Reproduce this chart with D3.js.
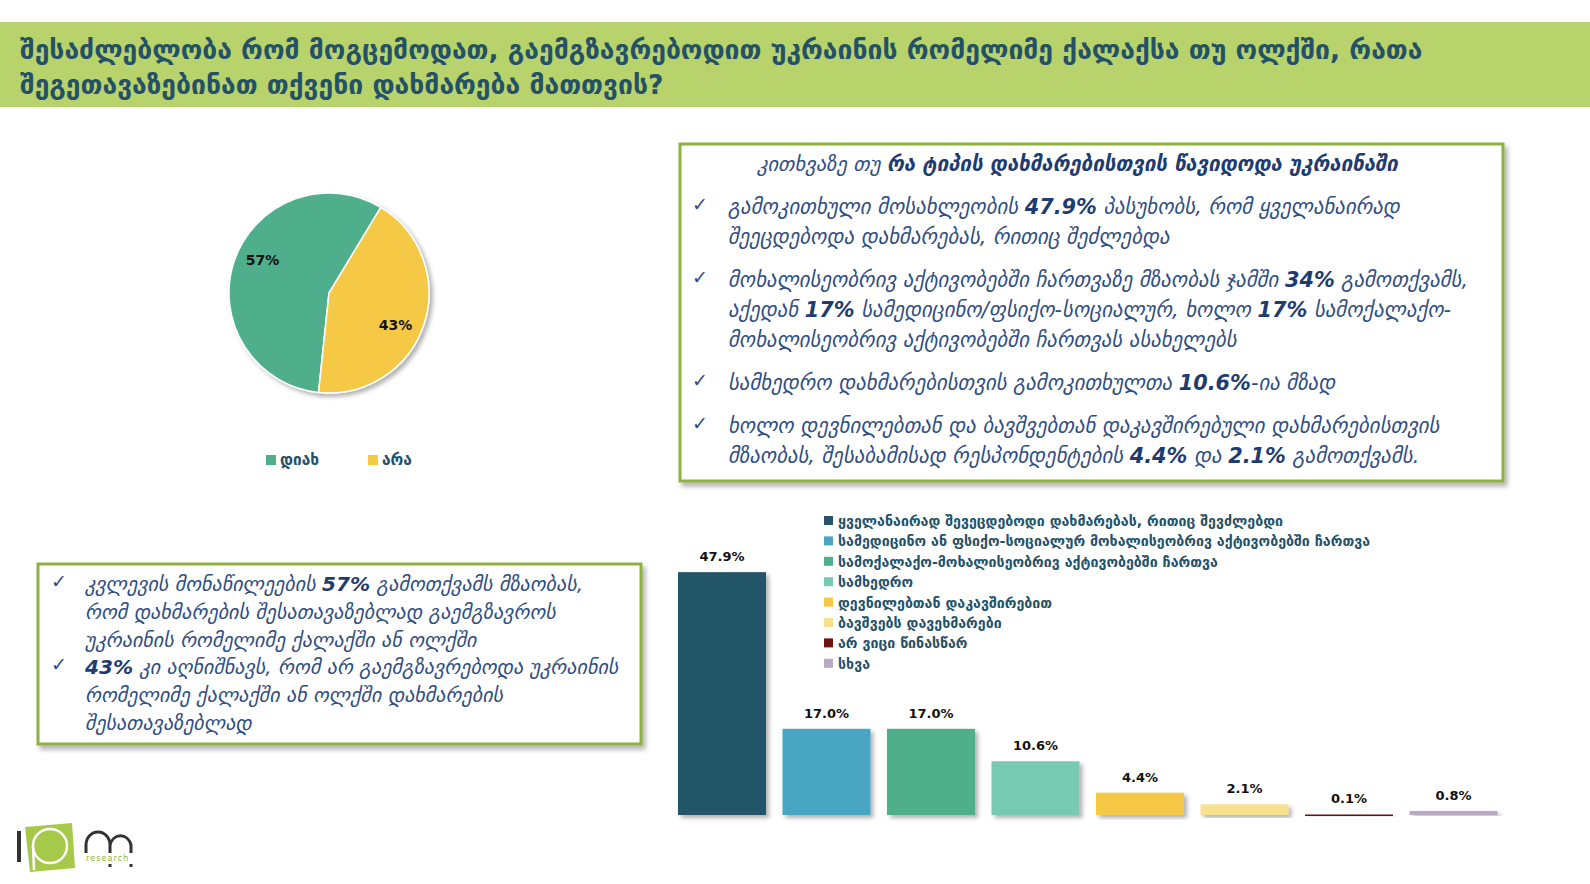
<!DOCTYPE html>
<html>
<head>
<meta charset="utf-8">
<script src="https://cdn.jsdelivr.net/npm/d3@7"></script>
<style>
  body { margin: 0; background: #fff; }
  svg text { font-family: "DejaVu Sans", "Noto Sans", sans-serif; }
</style>
</head>
<body>
<div id="slide"></div>
<script>
// ---- data ----
const titleLines = [
  "შესაძლებლობა რომ მოგცემოდათ, გაემგზავრებოდით უკრაინის რომელიმე ქალაქსა თუ ოლქში, რათა",
  "შეგეთავაზებინათ თქვენი დახმარება მათთვის?"
];

const pieLabels = ["დიახ", "არა"];
const pieValues = [57, 43];
const pieColors = ["#4faf8c", "#f5c944"];

const barLabels = [
  "ყველანაირად შევეცდებოდი დახმარებას, რითიც შევძლებდი",
  "სამედიცინო ან ფსიქო-სოციალურ მოხალისეობრივ აქტივობებში ჩართვა",
  "სამოქალაქო-მოხალისეობრივ აქტივობებში ჩართვა",
  "სამხედრო",
  "დევნილებთან დაკავშირებით",
  "ბავშვებს დავეხმარები",
  "არ ვიცი წინასწარ",
  "სხვა"
];
const barValues = [47.9, 17.0, 17.0, 10.6, 4.4, 2.1, 0.1, 0.8];
const barColors = ["#235468", "#4aa6c2", "#4faf8c", "#77c9b2", "#f5c944", "#f7e18e", "#6e1212", "#b9a9c3"];

// text boxes: *...* marks bold, bullet=true starts a new item
const noteHeader = ["კითხვაზე თუ ", "*რა ტიპის დახმარებისთვის წავიდოდა უკრაინაში*"];
const noteLines = [
  { bullet: true,  text: "გამოკითხული მოსახლეობის *47.9%* პასუხობს, რომ ყველანაირად" },
  { bullet: false, text: "შეეცდებოდა დახმარებას, რითიც შეძლებდა" },
  { bullet: true,  text: "მოხალისეობრივ აქტივობებში ჩართვაზე მზაობას ჯამში *34%* გამოთქვამს," },
  { bullet: false, text: "აქედან *17%* სამედიცინო/ფსიქო-სოციალურ, ხოლო *17%* სამოქალაქო-" },
  { bullet: false, text: "მოხალისეობრივ აქტივობებში ჩართვას ასახელებს" },
  { bullet: true,  text: "სამხედრო დახმარებისთვის გამოკითხულთა *10.6%*-ია მზად" },
  { bullet: true,  text: "ხოლო დევნილებთან და ბავშვებთან დაკავშირებული დახმარებისთვის" },
  { bullet: false, text: "მზაობას, შესაბამისად რესპონდენტების *4.4%* და *2.1%* გამოთქვამს." }
];
const pieNoteLines = [
  { bullet: true,  text: "კვლევის მონაწილეების *57%* გამოთქვამს მზაობას," },
  { bullet: false, text: "რომ დახმარების შესათავაზებლად გაემგზავროს" },
  { bullet: false, text: "უკრაინის რომელიმე ქალაქში ან ოლქში" },
  { bullet: true,  text: "*43%* კი აღნიშნავს, რომ არ გაემგზავრებოდა უკრაინის" },
  { bullet: false, text: "რომელიმე ქალაქში ან ოლქში დახმარების" },
  { bullet: false, text: "შესათავაზებლად" }
];

// ---- layout ----
const width = 1590, height = 884;
const headColor = "#245168";
const noteColor = "#2f4e82";

const svg = d3.select("#slide").append("svg")
  .attr("width", width)
  .attr("height", height);

// shadows
const defs = svg.append("defs");
defs.append("filter").attr("id", "shadow")
  .attr("x", "-10%").attr("y", "-10%").attr("width", "130%").attr("height", "130%")
  .append("feDropShadow")
  .attr("dx", 3).attr("dy", 3).attr("stdDeviation", 2)
  .attr("flood-color", "#000").attr("flood-opacity", 0.3);
defs.append("filter").attr("id", "boxShadow")
  .attr("x", "-5%").attr("y", "-5%").attr("width", "110%").attr("height", "115%")
  .append("feDropShadow")
  .attr("dx", 3).attr("dy", 4).attr("stdDeviation", 2.5)
  .attr("flood-color", "#000").attr("flood-opacity", 0.3);

// header band
svg.append("rect")
  .attr("x", 0).attr("y", 22)
  .attr("width", width).attr("height", 85)
  .attr("fill", "#b8d36b");

svg.selectAll(".title")
  .data(titleLines)
  .enter()
  .append("text")
  .attr("class", "title")
  .attr("x", 20)
  .attr("y", (d, i) => 59 + i * 35)
  .attr("fill", headColor)
  .attr("font-size", 26.5)
  .attr("font-weight", "bold")
  .text(d => d);

// helper: write a line with *bold* parts
function richLine(sel, text) {
  text.split("*").forEach((part, i) => {
    if (!part) return;
    sel.append("tspan")
      .attr("font-weight", i % 2 ? "bold" : "normal")
      .attr("fill", i % 2 ? "#1f3c70" : noteColor)
      .text(part);
  });
}

// ---- pie ----
const pieGroup = svg.append("g").attr("transform", "translate(329, 293)");
const pie = d3.pie().sort(null)
  .startAngle(186 * Math.PI / 180)
  .endAngle(546 * Math.PI / 180);
const arc = d3.arc().innerRadius(0).outerRadius(100);
const pieArcs = pie(pieValues);

pieGroup.selectAll("path")
  .data(pieArcs)
  .enter()
  .append("path")
  .attr("d", arc)
  .attr("fill", (d, i) => pieColors[i])
  .attr("stroke", "#fff")
  .attr("stroke-width", 1.5)
  .attr("filter", "url(#shadow)");

// labels sit a little past the slice middle, like the original
const labelArc = d3.arc().innerRadius(74).outerRadius(74);
const nudge = 7.5 * Math.PI / 180;
pieGroup.selectAll(".pieLabel")
  .data(pieArcs)
  .enter()
  .append("text")
  .attr("class", "pieLabel")
  .attr("transform", d => `translate(${labelArc.centroid({startAngle: d.startAngle + nudge, endAngle: d.endAngle + nudge})})`)
  .attr("text-anchor", "middle")
  .attr("dy", "0.35em")
  .attr("font-size", 14)
  .attr("font-weight", "bold")
  .attr("fill", "#111")
  .text(d => d.data + "%");

// pie legend
const pieLegend = svg.append("g").attr("transform", "translate(266, 460)");
const pieLegendItem = pieLegend.selectAll("g")
  .data(pieLabels)
  .enter()
  .append("g")
  .attr("transform", (d, i) => `translate(${i * 102}, 0)`);
pieLegendItem.append("rect")
  .attr("x", 0).attr("y", -5)
  .attr("width", 10).attr("height", 10)
  .attr("fill", (d, i) => pieColors[i]);
pieLegendItem.append("text")
  .attr("x", 14).attr("y", 5)
  .attr("font-size", 15.5)
  .attr("font-weight", "bold")
  .attr("fill", headColor)
  .text(d => d);

// ---- note boxes ----
function noteBox(x, y, w, h) {
  svg.append("rect")
    .attr("x", x).attr("y", y)
    .attr("width", w).attr("height", h)
    .attr("fill", "#fff")
    .attr("stroke", "#8fb043")
    .attr("stroke-width", 3)
    .attr("filter", "url(#boxShadow)");
}

noteBox(680, 144, 823, 337);

const header = svg.append("text")
  .attr("x", 757).attr("y", 171)
  .attr("font-size", 20.5)
  .attr("font-style", "italic");
richLine(header, noteHeader.join(""));

let ny = 214;
noteLines.forEach((line, i) => {
  if (i > 0) ny += line.bullet ? 43 : 30;
  if (line.bullet) {
    svg.append("text")
      .attr("x", 692).attr("y", ny - 3)
      .attr("font-size", 19)
      .attr("fill", noteColor)
      .text("✓");
  }
  const t = svg.append("text")
    .attr("x", 728).attr("y", ny)
    .attr("font-size", 20.8)
    .attr("font-style", "italic");
  richLine(t, line.text);
});

noteBox(38, 564, 603, 180);

pieNoteLines.forEach((line, i) => {
  const ly = 591 + i * 27.8;
  if (line.bullet) {
    svg.append("text")
      .attr("x", 51).attr("y", ly - 3)
      .attr("font-size", 19)
      .attr("fill", noteColor)
      .text("✓");
  }
  const t = svg.append("text")
    .attr("x", 85).attr("y", ly)
    .attr("font-size", 20.1)
    .attr("font-style", "italic");
  richLine(t, line.text);
});

// ---- bar chart ----
const x = d3.scaleBand()
  .domain(barLabels)
  .range([669.75, 1505.75])
  .paddingInner(0.158)
  .paddingOuter(0.079);

const y = d3.scaleLinear()
  .domain([0, 50])
  .range([815, 815 - 253.5]);

const barGroup = svg.append("g");
barGroup.selectAll("rect")
  .data(barValues)
  .enter()
  .append("rect")
  .attr("x", (d, i) => x(barLabels[i]))
  .attr("y", d => y(d))
  .attr("width", x.bandwidth())
  .attr("height", d => Math.max(y(0) - y(d), 1.5))
  .attr("fill", (d, i) => barColors[i])
  .attr("filter", "url(#shadow)");

barGroup.selectAll(".barLabel")
  .data(barValues)
  .enter()
  .append("text")
  .attr("class", "barLabel")
  .attr("x", (d, i) => x(barLabels[i]) + x.bandwidth() / 2)
  .attr("y", d => y(d) - 11)
  .attr("text-anchor", "middle")
  .attr("font-size", 13)
  .attr("font-weight", "bold")
  .attr("fill", "#111")
  .text(d => d.toFixed(1) + "%");

// bar legend
const barLegend = svg.append("g").attr("transform", "translate(824, 521)");
const barLegendItem = barLegend.selectAll("g")
  .data(barLabels)
  .enter()
  .append("g")
  .attr("transform", (d, i) => `translate(0, ${i * 20.4})`);
barLegendItem.append("rect")
  .attr("x", 0).attr("y", -5)
  .attr("width", 9).attr("height", 9)
  .attr("fill", (d, i) => barColors[i]);
barLegendItem.append("text")
  .attr("x", 14).attr("y", 5)
  .attr("font-size", 14.2)
  .attr("font-weight", "bold")
  .attr("fill", headColor)
  .text(d => d);

// ---- logo ----
const logo = svg.append("g");
logo.append("rect").attr("x", 17).attr("y", 831).attr("width", 4).attr("height", 31).attr("fill", "#333");
logo.append("path")
  .attr("d", "M25,827 L72,823 L75,868 L30,872 Z")
  .attr("fill", "#a6c94a");
logo.append("circle").attr("cx", 50).attr("cy", 846).attr("r", 17)
  .attr("fill", "none").attr("stroke", "#fff").attr("stroke-width", 2.5);
logo.append("line").attr("x1", 33).attr("y1", 846).attr("x2", 34).attr("y2", 870)
  .attr("stroke", "#fff").attr("stroke-width", 2.5);
logo.append("path")
  .attr("d", "M86,853 L86,845 A12,13 0 0 1 110,845 L110,853 M110,845 A11,13 0 0 1 131,845 L131,853")
  .attr("fill", "none").attr("stroke", "#333").attr("stroke-width", 3);
logo.append("rect").attr("x", 108.5).attr("y", 864).attr("width", 3).attr("height", 3).attr("fill", "#333");
logo.append("rect").attr("x", 129.5).attr("y", 864).attr("width", 3).attr("height", 3).attr("fill", "#333");
logo.append("text")
  .attr("x", 86).attr("y", 861)
  .attr("font-size", 8)
  .attr("letter-spacing", 1.1)
  .attr("fill", "#8ab33d")
  .text("research");
</script>
</body>
</html>
